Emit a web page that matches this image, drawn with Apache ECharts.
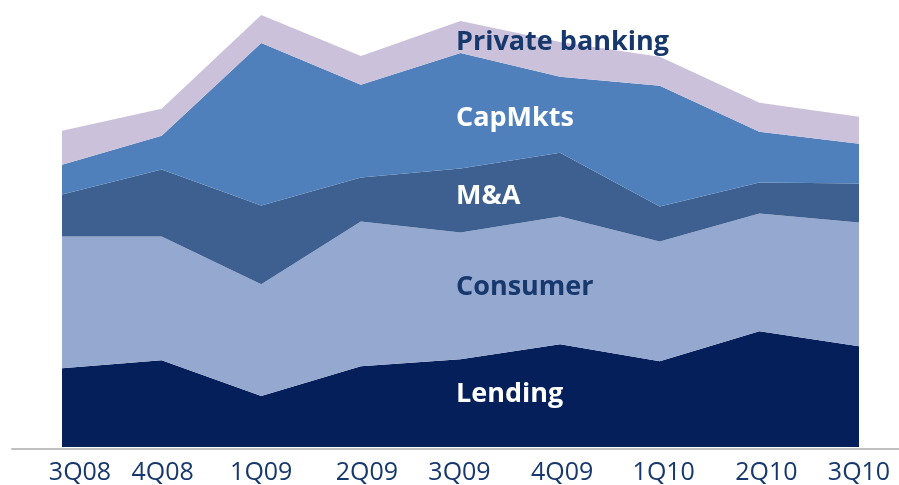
<!DOCTYPE html>
<html>
<head>
<meta charset="utf-8">
<script src="https://cdn.jsdelivr.net/npm/echarts@6/dist/echarts.min.js"></script>
<style>
  html, body { margin: 0; padding: 0; background: #fff; }
  #chart { width: 899px; height: 485px; }
</style>
</head>
<body>
<div id="chart"></div>
<script>
// quarters on the x axis
const quarters = ['3Q08', '4Q08', '1Q09', '2Q09', '3Q09', '4Q09', '1Q10', '2Q10', '3Q10']

// stacked revenue pools (relative units)
const lending        = [79, 87, 51, 81, 88, 103, 86, 116, 101]
const consumer       = [132, 124, 112, 145, 127, 128, 120, 118, 124]
const mna            = [42, 67, 79, 44, 64, 64, 35, 31, 39]
const capMkts        = [30, 34, 163, 93, 116, 76, 121, 51, 40]
const privateBanking = [34, 27, 28, 29, 32, 35, 29, 29, 27]

// small nudges of the quarter labels, as in the original slide
const labelShift = [18, 1, 0, 6, -1, 2, 4, 7, 0]

const navy = '#17386c'
const font = 'Open Sans'

let chart = echarts.init(document.getElementById('chart'))

let rich = {}
labelShift.forEach((s, i) => {
  rich['q' + i] = {
    fontFamily: font,
    fontSize: 25,
    color: navy,
    padding: s >= 0 ? [0, 0, 0, 2 * s] : [0, -2 * s, 0, 0]
  }
})

function area(name, data, color) {
  return {
    name: name,
    type: 'line',
    stack: 'total',
    data: data,
    symbol: 'none',
    lineStyle: { width: 0 },
    areaStyle: { color: color, opacity: 1 },
    emphasis: { disabled: true },
    z: 3
  }
}

function label(text, y, color) {
  return {
    type: 'text',
    left: 456,
    top: y - 11,
    style: {
      text: text,
      fill: color,
      font: 'bold 27px "Open Sans"'
    },
    z: 10
  }
}

chart.setOption({
  animation: false,
  grid: [
    { left: 62, right: 40, top: 0, bottom: 37 },
    { left: 12, right: 0, top: 0, bottom: 36 }
  ],
  xAxis: [{
    type: 'category',
    gridIndex: 0,
    data: quarters,
    boundaryGap: false,
    axisLine: { show: false },
    axisTick: { show: false },
    axisLabel: {
      margin: 13,
      interval: 0,
      fontFamily: font,
      fontSize: 25,
      color: navy,
      formatter: (v, i) => '{q' + i + '|' + v + '}',
      rich: rich
    }
  }, {
    type: 'value',
    gridIndex: 1,
    min: 0,
    max: 1,
    axisLine: { show: true, lineStyle: { color: '#c0c0c0', width: 2 } },
    axisTick: { show: false },
    axisLabel: { show: false },
    splitLine: { show: false }
  }],
  yAxis: [{
    type: 'value',
    gridIndex: 0,
    min: 0,
    max: 448,
    show: false
  }, {
    type: 'value',
    gridIndex: 1,
    show: false
  }],
  series: [
    area('Lending', lending, '#041f5a'),
    area('Consumer', consumer, '#94a8d0'),
    area('M&A', mna, '#3d6090'),
    area('CapMkts', capMkts, '#4f80bc'),
    area('Private banking', privateBanking, '#cbc1da')
  ],
  graphic: [
    label('Private banking', 40, navy),
    label('CapMkts', 116, '#ffffff'),
    label('M&A', 194, '#ffffff'),
    label('Consumer', 285, navy),
    label('Lending', 392, '#ffffff')
  ]
})
</script>
</body>
</html>
